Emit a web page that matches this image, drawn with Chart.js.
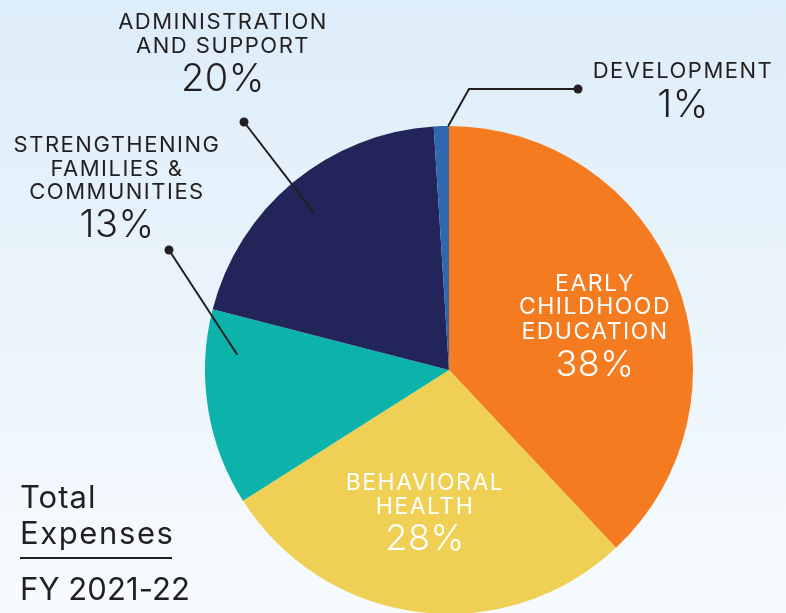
<!DOCTYPE html>
<html>
<head>
<meta charset="utf-8">
<script src="https://cdn.jsdelivr.net/npm/chart.js@4/dist/chart.umd.min.js"></script>
<style>
    html, body {
        margin: 0;
        padding: 0;
        width: 786px;
        height: 613px;
        overflow: hidden;
        background: linear-gradient(#ddedf9, #f7fbfe);
    }
    #wrap {
        position: absolute;
        left: 0;
        top: 0;
        width: 786px;
        height: 740px;
    }
</style>
</head>
<body>
<div id="wrap"><canvas id="despesasChart"></canvas></div>
<script>
// dados do grafico (ordem horaria, a partir do topo)
const categorias = [
    "EARLY CHILDHOOD EDUCATION",
    "BEHAVIORAL HEALTH",
    "STRENGTHENING FAMILIES & COMMUNITIES",
    "ADMINISTRATION AND SUPPORT",
    "DEVELOPMENT"
];
const percentuais = [38, 28, 13, 20, 1];
const cores = ["#f47b20", "#f0cf55", "#0bb3ab", "#222559", "#3068b0"];

const TINTA = "#231f20";
const FONTE = "Inter, 'Noto Sans', sans-serif";

// linhas do rotulo de cada fatia, e onde fica o texto
const rotulos = [
    { linhas: ["EARLY", "CHILDHOOD", "EDUCATION"], x: 595, y: [291, 314, 339], yPct: 376, cor: "#ffffff", tam: 23, tamPct: 36 },
    { linhas: ["BEHAVIORAL", "HEALTH"], x: 425, y: [490, 514], yPct: 550, cor: "#ffffff", tam: 23, tamPct: 36 },
    { linhas: ["STRENGTHENING", "FAMILIES &", "COMMUNITIES"], x: 117, y: [152, 176, 199], yPct: 237, cor: TINTA, tam: 22, tamPct: 38 },
    { linhas: ["ADMINISTRATION", "AND SUPPORT"], x: 223, y: [29, 53], yPct: 91, cor: TINTA, tam: 22, tamPct: 38 },
    { linhas: ["DEVELOPMENT"], x: 683, y: [78], yPct: 117, cor: TINTA, tam: 22, tamPct: 38 }
];

// linhas de chamada: ponto na fatia (fracao do angulo e do raio) ate a bolinha
const chamadas = [
    { indice: 3, fracAng: 0.485, fracRaio: 0.85, bola: [244, 122] },
    { indice: 2, fracAng: 0.78, fracRaio: 0.87, bola: [169, 250] },
    { indice: 4, fracAng: 0.95, fracRaio: 1.0, cotovelo: [469, 89], bola: [578, 89] }
];

const pluginRotulos = {
    id: "rotulos",
    afterDatasetsDraw(chart) {
        const ctx = chart.ctx;
        const arcos = chart.getDatasetMeta(0).data;
        ctx.save();

        // chamadas
        ctx.strokeStyle = TINTA;
        ctx.fillStyle = TINTA;
        ctx.lineWidth = 2;
        chamadas.forEach(c => {
            const a = arcos[c.indice];
            const ang = a.startAngle + (a.endAngle - a.startAngle) * c.fracAng;
            const r = a.outerRadius * c.fracRaio;
            const px = a.x + Math.cos(ang) * r;
            const py = a.y + Math.sin(ang) * r;
            ctx.beginPath();
            ctx.moveTo(px, py);
            if (c.cotovelo) ctx.lineTo(c.cotovelo[0], c.cotovelo[1]);
            ctx.lineTo(c.bola[0], c.bola[1]);
            ctx.stroke();
            ctx.beginPath();
            ctx.arc(c.bola[0], c.bola[1], 4.5, 0, Math.PI * 2);
            ctx.fill();
        });

        // textos
        ctx.textAlign = "center";
        ctx.textBaseline = "alphabetic";
        rotulos.forEach((r, i) => {
            ctx.fillStyle = r.cor;
            ctx.letterSpacing = "1.5px";
            ctx.font = "400 " + r.tam + "px " + FONTE;
            r.linhas.forEach((t, k) => ctx.fillText(t, r.x, r.y[k]));
            ctx.letterSpacing = "0.5px";
            ctx.font = "300 " + r.tamPct + "px " + FONTE;
            ctx.fillText(percentuais[i] + "%", r.x, r.yPct);
        });

        // titulo no canto
        ctx.textAlign = "left";
        ctx.fillStyle = TINTA;
        ctx.font = "400 31px " + FONTE;
        ctx.letterSpacing = "1px";
        ctx.fillText("Total", 20, 508);
        ctx.letterSpacing = "1.6px";
        ctx.fillText("Expenses", 20, 544);
        ctx.letterSpacing = "0.1px";
        ctx.fillText("FY 2021-22", 20, 600);
        ctx.fillRect(20, 557, 152, 2);

        ctx.restore();
    }
};

const ctxDespesas = document.getElementById("despesasChart").getContext("2d");

let despesasChart = new Chart(ctxDespesas, {
    type: "pie",
    data: {
        labels: categorias,
        datasets: [
            {
                data: percentuais,
                backgroundColor: cores,
                borderWidth: 0
            }
        ]
    },
    options: {
        responsive: true,
        maintainAspectRatio: false,
        animation: false,
        layout: {
            padding: { left: 205, right: 93, top: 126, bottom: 126 }
        },
        plugins: {
            legend: { display: false },
            tooltip: { enabled: false }
        }
    },
    plugins: [pluginRotulos]
});
</script>
</body>
</html>
